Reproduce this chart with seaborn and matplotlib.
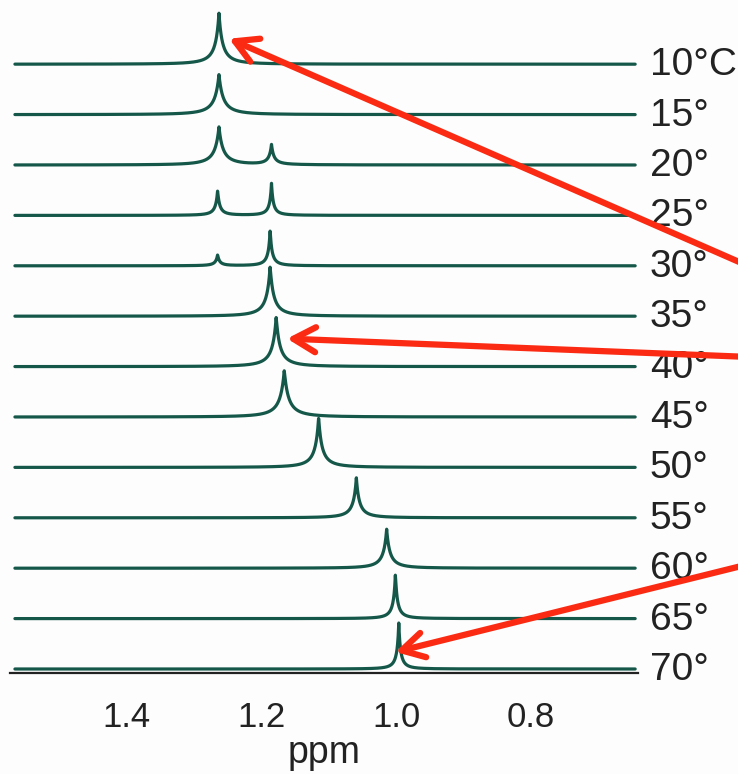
import numpy as np
import pandas as pd
import seaborn as sns
import matplotlib.pyplot as plt

# temperatures (deg C), one spectrum each, top to bottom
temps = [10, 15, 20, 25, 30, 35, 40, 45, 50, 55, 60, 65, 70]
# peak positions (ppm)
shifts = [[1.263], [1.263], [1.263, 1.185], [1.265, 1.185], [1.265, 1.187],
          [1.187], [1.178], [1.166], [1.115], [1.059], [1.014], [1.001], [0.996]]
# peak heights (arbitrary units, trace spacing ~50)
heights = [[51], [40], [38, 20], [25, 32], [11, 36],
           [50], [50], [47], [50], [40], [39], [45], [46]]
# line width parameter of each peak (ppm)
widths = [[0.0100], [0.0120], [0.0115, 0.0068], [0.0058, 0.0050], [0.0056, 0.0052],
          [0.0100], [0.0105], [0.0118], [0.0095], [0.0085], [0.0092], [0.0056], [0.0050]]

xticks = [1.4, 1.2, 1.0, 0.8]
labels = [f"{t}°C" if i == 0 else f"{t}°" for i, t in enumerate(temps)]

GREEN = '#15584a'
RED = '#fb2a12'
SPACING = 50.4

ppm = np.arange(0.645, 1.566, 0.0003)
rows = []
n = len(temps)
for i, t in enumerate(temps):
    off = 4 + (n - 1 - i) * SPACING
    sig = np.zeros_like(ppm)
    for c, h, w in zip(shifts[i], heights[i], widths[i]):
        sig += h / (1 + np.abs(ppm - c) / w) ** 2
    rows.append(pd.DataFrame({'ppm': ppm, 'y': sig + off, 'temp': t}))
df = pd.concat(rows, ignore_index=True)

sns.set_style('white')
plt.rcParams['font.family'] = ['Liberation Sans', 'DejaVu Sans']

fig = plt.figure(figsize=(7.38, 7.74), dpi=100)
fig.patch.set_facecolor('#fdfdfd')
ax = fig.add_axes([10 / 738, 101 / 774, 628 / 738, 673 / 774])
ax.set_facecolor('none')

sns.lineplot(data=df, x='ppm', y='y', hue='temp', palette=[GREEN] * n,
             estimator=None, sort=False, legend=False, lw=2.3, ax=ax)

ax.set_xlim(1.5733, 0.6408)
ax.set_ylim(0, 673)
for s in ['top', 'left', 'right']:
    ax.spines[s].set_visible(False)
ax.spines['bottom'].set_linewidth(1.6)
ax.spines['bottom'].set_color('#222222')
ax.set_yticks([])
ax.set_xticks(xticks)
ax.set_xticklabels([f"{v:.1f}" for v in xticks])
ax.tick_params(axis='x', direction='out', length=11, width=1.5, color='#222222',
               labelsize=25, pad=9, labelcolor='#222222')
ax.set_xlabel('ppm', fontsize=27, color='#222222', labelpad=1)
ax.set_ylabel('')

trans = ax.get_yaxis_transform()
for i, lab in enumerate(labels):
    off = 4 + (n - 1 - i) * SPACING
    ax.text(1.019, off - 1, lab, transform=trans, ha='left', va='center',
            fontsize=28, color='#222222', clip_on=False)

# red arrows pointing at the peaks
arrows = [(0, 0.015, 0.5, 0.658), (6, 0.016, 0.56, 0.539), (12, -0.005, 0.37, 0.270)]
for i, dx, fr, ytail in arrows:
    off = 4 + (n - 1 - i) * SPACING
    j = int(np.argmax(heights[i]))
    ax.annotate('', xy=(shifts[i][j] - dx, off + fr * heights[i][j]), xycoords='data',
                xytext=(1.01, ytail), textcoords='figure fraction',
                arrowprops=dict(arrowstyle='->,head_length=0.8,head_width=0.45',
                                color=RED, lw=4.5, mutation_scale=20,
                                shrinkA=0, shrinkB=0),
                annotation_clip=False)

fig.savefig('out.png', dpi=100, facecolor=fig.get_facecolor())
